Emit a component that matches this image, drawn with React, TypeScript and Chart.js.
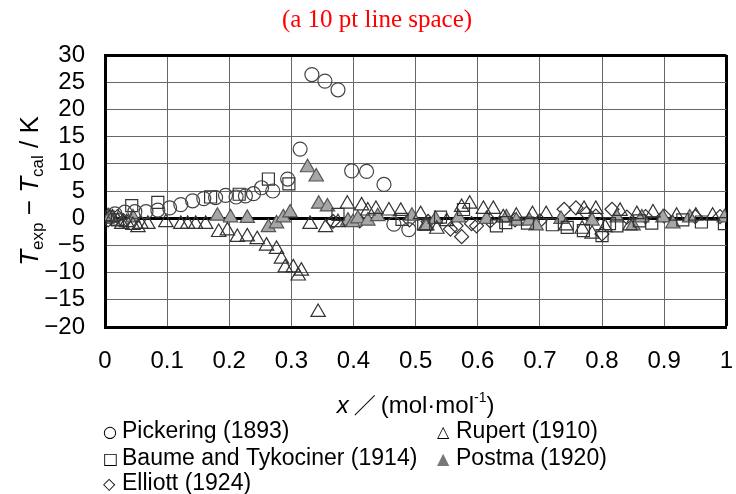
import React, { useEffect, useRef } from "react";
import { Chart, registerables } from "chart.js";

Chart.register(...registerables);

const TITLE = "(a 10 pt line space)";
const FONT = '"Liberation Sans", Arial, sans-serif';

const PICK_X = [0.016, 0.032, 0.048, 0.066, 0.085, 0.104, 0.122, 0.141, 0.159, 0.178, 0.194, 0.211, 0.226, 0.239, 0.252, 0.27, 0.294, 0.314, 0.333, 0.354, 0.375, 0.397, 0.421, 0.449, 0.465, 0.489];
const PICK_Y = [0.8, 1.1, 1.2, 1.2, 1.5, 1.9, 2.5, 3.2, 3.6, 3.8, 4.2, 3.9, 4.1, 4.5, 5.6, 5.0, 7.2, 12.7, 26.4, 25.2, 23.6, 8.7, 8.6, 6.2, -1.1, -2.1];

const RUPERT_X = [0.005, 0.012, 0.02, 0.027, 0.035, 0.045, 0.053, 0.058, 0.069, 0.098, 0.122, 0.133, 0.146, 0.162, 0.183, 0.197, 0.213, 0.229, 0.245, 0.26, 0.276, 0.284, 0.29, 0.303, 0.311, 0.316, 0.33, 0.343, 0.355, 0.375, 0.39, 0.413, 0.423, 0.436, 0.457, 0.476, 0.508, 0.516, 0.534, 0.55, 0.574, 0.587, 0.609, 0.625, 0.641, 0.662, 0.688, 0.71, 0.742, 0.768, 0.771, 0.784, 0.79, 0.805, 0.829, 0.845, 0.856, 0.882, 0.92, 0.951, 0.978];
const RUPERT_Y = [0.3, 0.1, -0.5, -1.1, -0.8, -1.3, -1.7, -1.1, -1.1, -0.8, -1.1, -1.1, -1.1, -1.1, -2.6, -2.3, -3.5, -3.4, -3.9, -5.1, -5.7, -7.5, -9.1, -9.1, -10.6, -9.7, -1.1, -17.3, -1.7, -0.8, 2.6, 2.3, 1.35, 1.65, 1.35, 1.3, 0.7, -1.4, -2.0, -0.6, 2.0, 2.6, 1.65, 1.65, 0.1, 0.4, 0.7, 0.7, -1.4, -2.0, 1.65, -2.9, 1.65, -1.7, 1.3, -1.4, 0.7, 1.0, 0.4, 0.4, 0.4];

const BAUME_X = [0.005, 0.02, 0.043, 0.085, 0.17, 0.216, 0.263, 0.296, 0.375, 0.478, 0.513, 0.54, 0.577, 0.63, 0.645, 0.68, 0.72, 0.744, 0.77, 0.8, 0.812, 0.824, 0.86, 0.88, 0.93, 0.96, 0.997];
const BAUME_Y = [0.2, -0.3, 2.3, 2.9, 3.9, 4.4, 7.2, 6.3, 0.7, -0.2, -1.1, 0.2, 1.6, -1.4, -0.8, -0.9, -1.2, -1.7, -2.3, -3.2, -1.0, -1.4, -0.5, -0.9, -0.3, -0.7, -1.0];

const POSTMA_X = [0.008, 0.045, 0.181, 0.202, 0.229, 0.263, 0.276, 0.287, 0.298, 0.326, 0.34, 0.344, 0.358, 0.391, 0.399, 0.407, 0.423, 0.439, 0.494, 0.518, 0.532, 0.569, 0.614, 0.646, 0.662, 0.683, 0.694, 0.734, 0.784, 0.824, 0.85, 0.864, 0.898, 0.914, 0.941, 0.997];
const POSTMA_Y = [0.2, 0.1, 0.4, 0.1, 0.0, -1.7, -1.0, 0.1, 1.0, 9.3, 7.6, 2.6, 2.1, -0.5, -0.8, -0.1, -0.5, 0.3, 0.4, -1.4, -0.2, 0.1, -0.2, 0.1, -0.5, -0.5, -1.4, -0.2, -0.5, 0.1, -1.4, 0.1, 0.1, -1.0, 0.1, 0.1];

const ELLIOTT_X = [0.005, 0.02, 0.03, 0.367, 0.41, 0.49, 0.52, 0.556, 0.565, 0.574, 0.59, 0.598, 0.62, 0.66, 0.7, 0.739, 0.758, 0.775, 0.79, 0.8, 0.816, 0.84, 0.87, 0.9, 0.95, 0.99];
const ELLIOTT_Y = [-0.3, 0.3, -0.5, -0.6, -0.5, -0.3, -0.6, -2.0, -1.4, -3.4, -1.0, -1.4, -0.5, -0.3, -0.5, 1.65, 1.9, 0.9, 0.4, -2.9, 1.65, 0.2, 0.3, 0.4, 0.3, 0.3];

const LEGEND_ITEMS = [
  { sym: "○", label: "Pickering (1893)", col: 0, row: 0 },
  { sym: "△", label: "Rupert (1910)", col: 1, row: 0 },
  { sym: "□", label: "Baume and Tykociner (1914)", col: 0, row: 1 },
  { sym: "▲", label: "Postma (1920)", col: 1, row: 1 },
  { sym: "◇", label: "Elliott (1924)", col: 0, row: 2 },
];

const zip = (xs: number[], ys: number[]) => xs.map((x, i) => ({ x, y: ys[i] }));

type Seg = { t: string; size: number; italic?: boolean; dy?: number; family?: string };

function drawRich(ctx: CanvasRenderingContext2D, segs: Seg[], cx: number, baseline: number) {
  const fontOf = (s: Seg) => `${s.italic ? "italic " : ""}${s.size}px ${s.family ?? FONT}`;
  let total = 0;
  const widths = segs.map((s) => {
    ctx.font = fontOf(s);
    const w = ctx.measureText(s.t).width;
    total += w;
    return w;
  });
  let x = cx - total / 2;
  ctx.textAlign = "left";
  ctx.textBaseline = "alphabetic";
  segs.forEach((s, i) => {
    ctx.font = fontOf(s);
    ctx.fillText(s.t, x, baseline + (s.dy ?? 0));
    x += widths[i];
  });
}

const X_TITLE: Seg[] = [
  { t: "x", size: 24, italic: true },
  { t: " ／ ", size: 22, family: '"Noto Sans CJK JP", sans-serif' },
  { t: "(mol·mol", size: 24 },
  { t: "-1", size: 14, dy: -11 },
  { t: ")", size: 24 },
];

const Y_TITLE: Seg[] = [
  { t: "T", size: 26, italic: true },
  { t: "exp", size: 17, dy: 5 },
  { t: " − ", size: 26 },
  { t: "T", size: 26, italic: true },
  { t: "cal", size: 17, dy: 5 },
  { t: " / K", size: 26 },
];

const textPlugin = {
  id: "customText",
  afterDraw(chart: any) {
    const ctx: CanvasRenderingContext2D = chart.ctx;
    const { left, right, top, bottom } = chart.chartArea;
    ctx.save();
    ctx.fillStyle = "#000";
    drawRich(ctx, X_TITLE, (left + right) / 2, 413);
    ctx.save();
    ctx.translate(29, (top + bottom) / 2);
    ctx.rotate(-Math.PI / 2);
    drawRich(ctx, Y_TITLE, 0, 9);
    ctx.restore();
    const colX = [103, 437];
    const rowY = [432, 459, 484];
    ctx.textBaseline = "middle";
    ctx.textAlign = "left";
    LEGEND_ITEMS.forEach((it) => {
      const x = colX[it.col];
      const y = rowY[it.row];
      ctx.font = `16px "DejaVu Sans", sans-serif`;
      ctx.fillStyle = it.sym === "▲" ? "#777" : "#000";
      ctx.fillText(it.sym, x, y + 1);
      ctx.fillStyle = "#000";
      ctx.font = `23px ${FONT}`;
      ctx.fillText(it.label, x + 19, y);
    });
    ctx.restore();
  },
};

export default function App() {
  const ref = useRef<HTMLCanvasElement | null>(null);
  useEffect(() => {
    document.body.style.margin = "0";
    if (!ref.current) return;
    const hollow = { backgroundColor: "rgba(0,0,0,0)", borderColor: "#333", borderWidth: 1.2 };
    const chart = new Chart(ref.current, {
      type: "scatter",
      data: {
        datasets: [
          { label: "Pickering (1893)", data: zip(PICK_X, PICK_Y), pointStyle: "circle", pointRadius: 7, ...hollow, borderColor: "#444" },
          { label: "Rupert (1910)", data: zip(RUPERT_X, RUPERT_Y), pointStyle: "triangle", pointRadius: 8.3, ...hollow },
          { label: "Baume and Tykociner (1914)", data: zip(BAUME_X, BAUME_Y), pointStyle: "rect", pointRadius: 8.5, ...hollow },
          { label: "Postma (1920)", data: zip(POSTMA_X, POSTMA_Y), pointStyle: "triangle", pointRadius: 8.3, backgroundColor: "#a6a6a6", borderColor: "#555", borderWidth: 1.2 },
          { label: "Elliott (1924)", data: zip(ELLIOTT_X, ELLIOTT_Y), pointStyle: "rectRot", pointRadius: 7, ...hollow },
        ],
      },
      options: {
        responsive: false,
        animation: false,
        events: [],
        layout: { padding: { left: 21, right: 3, top: 0, bottom: 107 } },
        plugins: {
          legend: { display: false },
          tooltip: { enabled: false },
          title: {
            display: true,
            text: TITLE,
            color: "#ff0000",
            font: { family: '"Liberation Serif", "Times New Roman", serif', size: 25, weight: "normal" },
            padding: { top: 5, bottom: 20 },
          },
        },
        scales: {
          x: {
            type: "linear",
            min: 0,
            max: 1,
            ticks: {
              stepSize: 0.1,
              autoSkip: false,
              maxRotation: 0,
              padding: 20,
              color: "#000",
              font: { family: FONT, size: 24 },
              callback: (v: any) => String(Math.round(Number(v) * 10) / 10),
            },
            grid: {
              drawTicks: false,
              color: (c: any) => (c.tick && Math.abs(c.tick.value - 1) < 1e-9 ? "#000" : "#666"),
              lineWidth: (c: any) => (c.tick && Math.abs(c.tick.value - 1) < 1e-9 ? 3 : 1),
            },
            border: { display: true, color: "#000", width: 3 },
            afterFit: (s: any) => {
              s.height = 60;
              s.paddingLeft = 0;
              s.paddingRight = 0;
            },
          },
          y: {
            type: "linear",
            min: -20,
            max: 30,
            ticks: {
              stepSize: 5,
              autoSkip: false,
              padding: 20,
              color: "#000",
              font: { family: FONT, size: 24 },
              callback: (v: any) => (Number(v) < 0 ? "−" + Math.abs(Number(v)) : String(v)),
            },
            grid: {
              drawTicks: false,
              color: (c: any) => (c.tick && (c.tick.value === 0 || c.tick.value === 30) ? "#000" : "#666"),
              lineWidth: (c: any) => (c.tick && (c.tick.value === 0 || c.tick.value === 30) ? 3 : 1),
            },
            border: { display: true, color: "#000", width: 3 },
            afterFit: (s: any) => {
              s.width = 84;
              s.paddingTop = 0;
              s.paddingBottom = 0;
            },
          },
        },
      },
      plugins: [textPlugin],
    } as any);
    return () => chart.destroy();
  }, []);
  return (
    <div style={{ width: 736, height: 494 }}>
      <canvas ref={ref} width={736} height={494} style={{ display: "block" }} />
    </div>
  );
}
